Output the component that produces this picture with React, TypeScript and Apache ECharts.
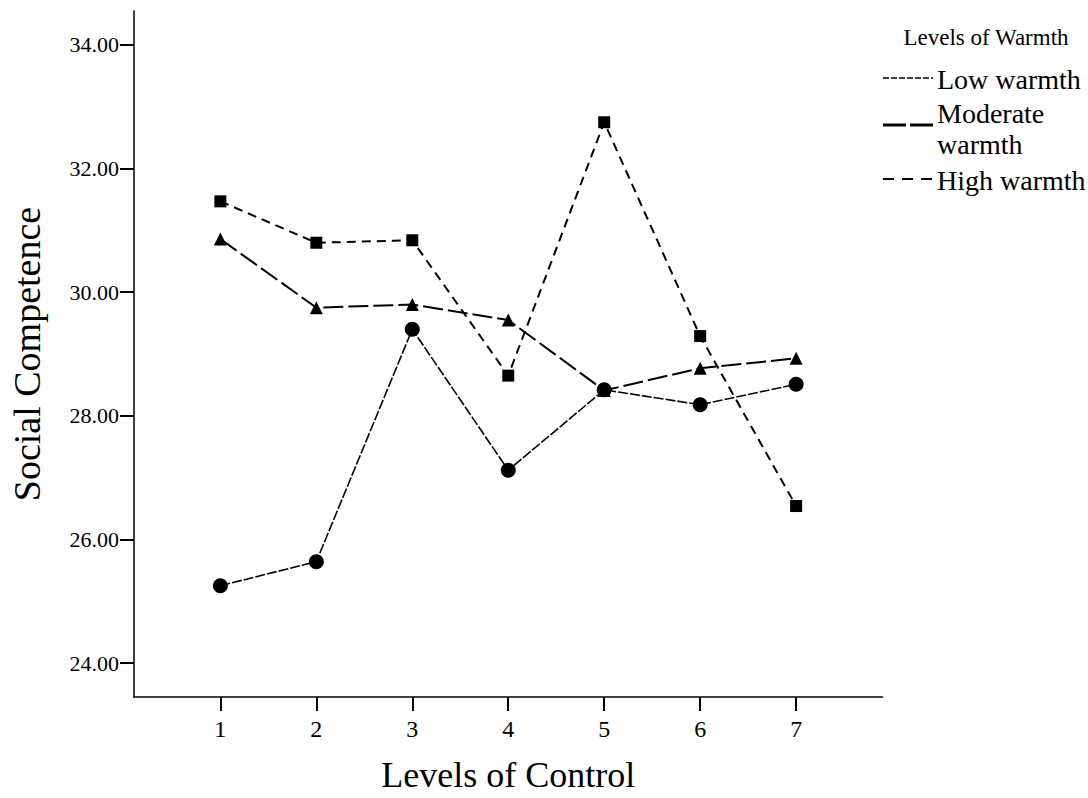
import React, { useEffect, useRef } from "react";
import * as echarts from "echarts";

const controlLevels = [1, 2, 3, 4, 5, 6, 7];
const lowWarmth = [25.25, 25.64, 29.4, 27.12, 28.42, 28.18, 28.51];
const moderateWarmth = [30.86, 29.75, 29.8, 29.55, 28.41, 28.77, 28.93];
const highWarmth = [31.47, 30.8, 30.84, 28.65, 32.75, 29.29, 26.54];
const yTicks = [24, 26, 28, 30, 32, 34];
const seriesNames = ["Low warmth", "Moderate warmth", "High warmth"];

const FONT = "Liberation Serif";

export default function App() {
  const ref = useRef<HTMLDivElement>(null);
  useEffect(() => {
    if (!ref.current) return;
    const chart = echarts.init(ref.current, null, { renderer: "svg" });
    const pairs = (vals: number[]) => controlLevels.map((c, i) => [c, vals[i]]);
    chart.setOption({
      animation: false,
      backgroundColor: "#ffffff",
      textStyle: { fontFamily: FONT, color: "#000" },
      grid: { left: 130.5, top: 11, width: 752, height: 691, containLabel: false },
      xAxis: {
        type: "value",
        min: 0.1,
        max: 7.9,
        name: "Levels of Control",
        nameLocation: "middle",
        nameGap: 60,
        nameTextStyle: { fontFamily: FONT, fontSize: 36, color: "#000" },
        axisLine: { show: true, lineStyle: { color: "#000", width: 1.5 } },
        axisTick: { show: true, length: 14, lineStyle: { color: "#000", width: 2 }, customValues: controlLevels },
        axisLabel: { fontFamily: FONT, fontSize: 24, color: "#000", margin: 20, customValues: controlLevels, formatter: (v: number) => String(v) },
        splitLine: { show: false },
      },
      yAxis: {
        type: "value",
        min: 23.45,
        max: 34.55,
        name: "Social Competence",
        nameLocation: "middle",
        nameRotate: 90,
        nameGap: 88,
        nameTextStyle: { fontFamily: FONT, fontSize: 38, color: "#000" },
        axisLine: { show: true, lineStyle: { color: "#000", width: 1.5 } },
        axisTick: { show: true, length: 14, lineStyle: { color: "#000", width: 2 }, customValues: yTicks },
        axisLabel: { fontFamily: FONT, fontSize: 22, color: "#000", margin: 15, customValues: yTicks, formatter: (v: number) => v.toFixed(2) },
        splitLine: { show: false },
      },
      series: [
        {
          name: seriesNames[0],
          type: "line",
          data: pairs(lowWarmth),
          symbol: "circle",
          symbolSize: 15,
          itemStyle: { color: "#000" },
          lineStyle: { color: "#000", width: 1.6, type: [10, 2] },
        },
        {
          name: seriesNames[1],
          type: "line",
          data: pairs(moderateWarmth),
          symbol: "triangle",
          symbolSize: 13,
          itemStyle: { color: "#000" },
          lineStyle: { color: "#000", width: 2, type: [20, 5] },
        },
        {
          name: seriesNames[2],
          type: "line",
          data: pairs(highWarmth),
          symbol: "rect",
          symbolSize: 12,
          itemStyle: { color: "#000" },
          lineStyle: { color: "#000", width: 2, type: [9, 6] },
        },
      ],
      graphic: [
        { type: "text", x: 986, y: 37, style: { text: "Levels of Warmth", font: `23px ${FONT}`, fill: "#000", align: "center", verticalAlign: "middle" } },
        { type: "line", shape: { x1: 883, y1: 78, x2: 933, y2: 78 }, style: { stroke: "#000", lineWidth: 1.6, lineDash: [6, 2] } },
        { type: "text", x: 937, y: 79, style: { text: "Low warmth", font: `28px ${FONT}`, fill: "#000", align: "left", verticalAlign: "middle" } },
        { type: "line", shape: { x1: 883, y1: 125, x2: 933, y2: 125 }, style: { stroke: "#000", lineWidth: 3, lineDash: [23, 4] } },
        { type: "text", x: 937, y: 113, style: { text: "Moderate", font: `28px ${FONT}`, fill: "#000", align: "left", verticalAlign: "middle" } },
        { type: "text", x: 937, y: 144, style: { text: "warmth", font: `28px ${FONT}`, fill: "#000", align: "left", verticalAlign: "middle" } },
        { type: "line", shape: { x1: 883, y1: 179, x2: 933, y2: 179 }, style: { stroke: "#000", lineWidth: 2, lineDash: [11, 8] } },
        { type: "text", x: 937, y: 180, style: { text: "High warmth", font: `28px ${FONT}`, fill: "#000", align: "left", verticalAlign: "middle" } },
      ],
    });
    return () => chart.dispose();
  }, []);
  return <div ref={ref} style={{ position: "fixed", left: 0, top: 0, width: 1088, height: 798 }} />;
}
